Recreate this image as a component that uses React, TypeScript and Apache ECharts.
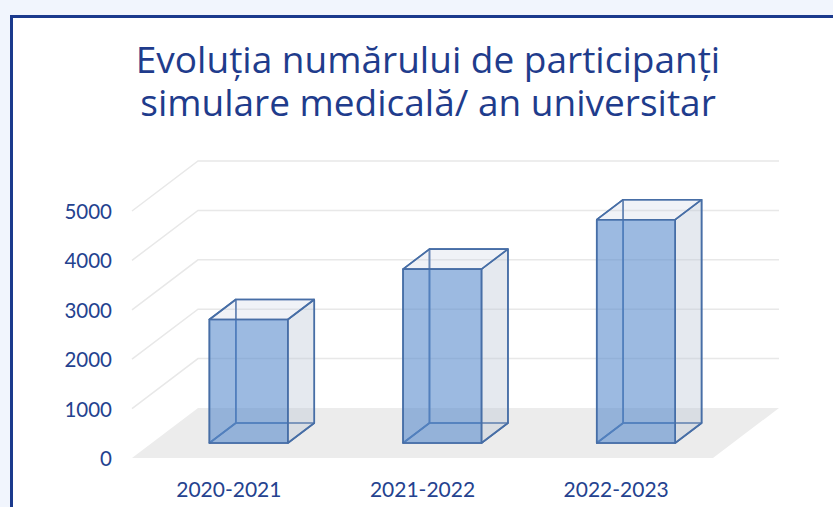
import React, { useEffect, useRef } from 'react';
import * as echarts from 'echarts';

const categories = ['2020-2021', '2021-2022', '2022-2023'];
const participants = [2500, 3520, 4520];
const yTicks = [1000, 2000, 3000, 4000, 5000];
const titleLines = ['Evoluția numărului de participanți', 'simulare medicală/ an universitar'];

// 3D depth offsets (px) and bar placement inside the depth
const DX = 66;
const DY = -50;
const FRONT = 0.3;
const BACK = 0.7;
const BAR_W = 0.405;

export default function App() {
  const ref = useRef<HTMLDivElement>(null);

  useEffect(() => {
    const chart = echarts.init(ref.current!, null, { renderer: 'svg' });
    const textColor = '#24428f';
    const edge = '#476ea6';

    const titleText = (text: string, y: number) => ({
      type: 'text',
      x: 428,
      y,
      silent: true,
      style: {
        text,
        fill: '#1f3c8c',
        fontSize: 37,
        fontFamily: 'Open Sans',
        lineHeight: 42,
        align: 'center',
        textAlign: 'center',
        verticalAlign: 'middle',
        textVerticalAlign: 'middle',
      },
    });

    chart.setOption({
      animation: false,
      backgroundColor: 'transparent',
      graphic: [titleText(titleLines[0], 58.5), titleText(titleLines[1], 101.5)],
      grid: { left: 132, right: 120, top: 211, bottom: 49 },
      xAxis: {
        type: 'category',
        data: categories,
        axisLine: { show: false },
        axisTick: { show: false },
        splitLine: { show: false },
        axisLabel: { color: textColor, fontSize: 21, fontFamily: 'Lato', margin: 20 },
      },
      yAxis: {
        type: 'value',
        min: 0,
        max: 5000,
        interval: 1000,
        axisLine: { show: false },
        axisTick: { show: false },
        splitLine: { show: false },
        axisLabel: {
          color: textColor,
          fontSize: 20.5,
          fontFamily: 'Lato',
          margin: 20,
          formatter: (v: number) => String(v),
        },
      },
      series: [
        {
          type: 'custom',
          silent: true,
          clip: false,
          z: 1,
          data: [[0, 0]],
          encode: { x: 0, y: 1 },
          renderItem: (params: any, api: any) => {
            const cs = params.coordSys;
            const y0 = api.coord([0, 0])[1];
            return {
              type: 'polygon',
              shape: {
                points: [
                  [cs.x, y0],
                  [cs.x + cs.width, y0],
                  [cs.x + cs.width + DX, y0 + DY],
                  [cs.x + DX, y0 + DY],
                ],
              },
              style: { fill: '#ececec', stroke: 'none' },
            };
          },
        },
        {
          type: 'custom',
          silent: true,
          clip: false,
          z: 1,
          data: yTicks.map((v) => [0, v]),
          encode: { x: 0, y: 1 },
          renderItem: (params: any, api: any) => {
            const cs = params.coordSys;
            const y = api.coord([0, api.value(1)])[1];
            return {
              type: 'polyline',
              shape: {
                points: [
                  [cs.x, y],
                  [cs.x + DX, y + DY],
                  [cs.x + cs.width + DX, y + DY],
                ],
              },
              style: { fill: 'none', stroke: '#e8e8e8', lineWidth: 1.5 },
            };
          },
        },
        {
          type: 'custom',
          silent: true,
          clip: false,
          z: 3,
          data: participants.map((v, i) => [i, v]),
          encode: { x: 0, y: 1 },
          renderItem: (params: any, api: any) => {
            const i = api.value(0);
            const v = api.value(1);
            const top = api.coord([i, v]);
            const base = api.coord([i, 0]);
            const band = api.size([1, 0])[0];
            const w = band * BAR_W;
            const cx = top[0] + FRONT * DX;
            const x1 = cx - w / 2;
            const x2 = cx + w / 2;
            const yb = base[1] + FRONT * DY;
            const yt = top[1] + FRONT * DY;
            const bx = (BACK - FRONT) * DX;
            const by = (BACK - FRONT) * DY;
            const stroke = { stroke: edge, lineWidth: 1.6, lineJoin: 'round' };
            const poly = (pts: number[][], fill: string) => ({
              type: 'polygon',
              shape: { points: pts },
              style: { fill, ...stroke },
            });
            return {
              type: 'group',
              children: [
                poly([[x1 + bx, yb + by], [x2 + bx, yb + by], [x2 + bx, yt + by], [x1 + bx, yt + by]], 'none'),
                poly([[x1, yb], [x1 + bx, yb + by], [x1 + bx, yt + by], [x1, yt]], 'none'),
                poly([[x1, yb], [x2, yb], [x2 + bx, yb + by], [x1 + bx, yb + by]], 'none'),
                poly([[x2, yb], [x2 + bx, yb + by], [x2 + bx, yt + by], [x2, yt]], 'rgba(190,200,215,0.4)'),
                poly([[x1, yt], [x2, yt], [x2 + bx, yt + by], [x1 + bx, yt + by]], 'rgba(200,210,225,0.28)'),
                poly([[x1, yb], [x2, yb], [x2, yt], [x1, yt]], 'rgba(90,140,205,0.6)'),
              ],
            };
          },
        },
      ],
    });

    return () => chart.dispose();
  }, []);

  return (
    <div
      style={{
        position: 'fixed',
        left: 0,
        top: 0,
        width: 833,
        height: 507,
        background: '#f1f5fd',
        overflow: 'hidden',
      }}
    >
      <div
        style={{
          position: 'absolute',
          left: 10,
          top: 15,
          width: 900,
          height: 600,
          boxSizing: 'border-box',
          border: '3px solid #1b3a8d',
          background: '#ffffff',
        }}
      />
      <div ref={ref} style={{ position: 'absolute', left: 0, top: 0, width: 833, height: 507 }} />
    </div>
  );
}
